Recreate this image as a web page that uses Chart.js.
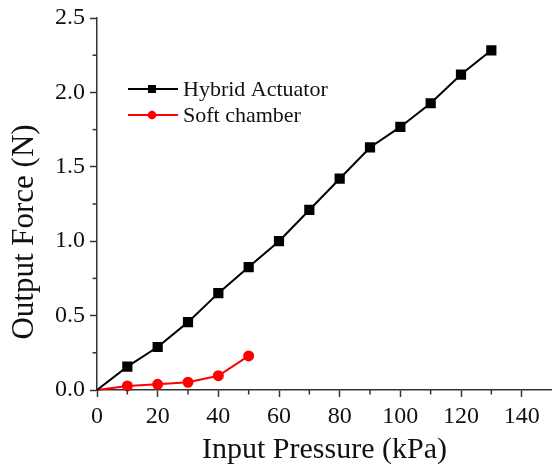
<!DOCTYPE html>
<html>
<head>
<meta charset="utf-8">
<script src="https://cdn.jsdelivr.net/npm/chart.js@4.4.1/dist/chart.umd.min.js"></script>
<style>
  html, body { margin: 0; padding: 0; background: #fff; }
  #wrap { width: 552px; height: 468px; }
</style>
</head>
<body>
<div id="wrap"><canvas id="c" width="552" height="468"></canvas></div>
<script>
const pressure = [0, 10, 20, 30, 40, 50, 60, 70, 80, 90, 100, 110, 120, 130];
const hybridForce = [0, 0.157, 0.289, 0.456, 0.651, 0.826, 1.00, 1.21, 1.42, 1.63, 1.768, 1.927, 2.12, 2.283];
const softPressure = [0, 10, 20, 30, 40, 50];
const softForce = [0, 0.027, 0.038, 0.052, 0.096, 0.229];
const seriesNames = ['Hybrid Actuator', 'Soft chamber'];
const xTitle = 'Input Pressure (kPa)';
const yTitle = 'Output Force (N)';

const FONT = "'Liberation Serif', 'Times New Roman', serif";
const AXIS_COLOR = '#333';

const extrasPlugin = {
  id: 'extras',
  afterDraw(chart) {
    const ctx = chart.ctx;
    const xs = chart.scales.x, ys = chart.scales.y;
    const area = chart.chartArea;
    ctx.save();
    // minor ticks
    ctx.strokeStyle = AXIS_COLOR;
    ctx.lineWidth = 1.5;
    for (let v = 10; v < 150; v += 20) {
      const px = xs.getPixelForValue(v);
      ctx.beginPath(); ctx.moveTo(px, area.bottom); ctx.lineTo(px, area.bottom + 4.5); ctx.stroke();
    }
    for (let v = 0.25; v < 2.5; v += 0.5) {
      const py = ys.getPixelForValue(v);
      ctx.beginPath(); ctx.moveTo(area.left, py); ctx.lineTo(area.left - 4.5, py); ctx.stroke();
    }
    // y title
    ctx.fillStyle = '#111';
    ctx.font = '31px ' + FONT;
    ctx.textAlign = 'center';
    ctx.textBaseline = 'middle';
    ctx.translate(25, 232);
    ctx.rotate(-Math.PI / 2);
    ctx.fillText(yTitle, 0, 0);
    ctx.restore();

    // legend
    ctx.save();
    const items = [
      { name: seriesNames[0], color: '#000', style: 'rect', y: 89 },
      { name: seriesNames[1], color: '#ff0000', style: 'circle', y: 115 }
    ];
    items.forEach(it => {
      ctx.strokeStyle = it.color;
      ctx.fillStyle = it.color;
      ctx.lineWidth = 2;
      ctx.beginPath(); ctx.moveTo(128, it.y); ctx.lineTo(178, it.y); ctx.stroke();
      if (it.style === 'rect') {
        ctx.fillRect(152 - 4, it.y - 4, 8, 8);
      } else {
        ctx.beginPath(); ctx.arc(152, it.y, 4.3, 0, Math.PI * 2); ctx.fill();
      }
      ctx.fillStyle = '#111';
      ctx.font = '22px ' + FONT;
      ctx.textAlign = 'left';
      ctx.textBaseline = 'middle';
      ctx.fillText(it.name, 183, it.y + 1);
    });
    ctx.restore();
  }
};

new Chart(document.getElementById('c'), {
  type: 'line',
  data: {
    datasets: [
      {
        label: seriesNames[0],
        data: pressure.map((p, i) => ({ x: p, y: hybridForce[i] })),
        borderColor: '#000',
        backgroundColor: '#000',
        borderWidth: 2,
        pointStyle: 'rect',
        pointRadius: pressure.map((p, i) => i === 0 ? 0 : 5.8),
        pointHoverRadius: 5.8,
        tension: 0
      },
      {
        label: seriesNames[1],
        data: softPressure.map((p, i) => ({ x: p, y: softForce[i] })),
        borderColor: '#ff0000',
        backgroundColor: '#ff0000',
        borderWidth: 2,
        pointStyle: 'circle',
        pointRadius: softPressure.map((p, i) => i === 0 ? 0 : 4.5),
        pointHoverRadius: 4.5,
        tension: 0
      }
    ]
  },
  options: {
    responsive: false,
    animation: false,
    devicePixelRatio: 1,
    clip: false,
    layout: { autoPadding: false, padding: { top: 18, right: 0, left: 0, bottom: 0 } },
    plugins: { legend: { display: false }, tooltip: { enabled: false } },
    scales: {
      x: {
        type: 'linear',
        min: 0, max: 150,
        afterFit(scale) { scale.height = 78; scale.paddingRight = 0; scale.paddingLeft = 0; },
        border: { display: true, color: AXIS_COLOR, width: 1.5 },
        grid: {
          drawOnChartArea: false, drawTicks: true, tickLength: 7, tickWidth: 1.5,
          tickColor: c => (c.tick && c.tick.value % 20 === 0 && c.tick.value <= 140) ? AXIS_COLOR : 'rgba(0,0,0,0)'
        },
        ticks: {
          stepSize: 10, autoSkip: false, maxRotation: 0, padding: 5,
          color: '#111', font: { family: FONT, size: 24 },
          callback: v => (v % 20 === 0 && v <= 140) ? String(v) : ''
        },
        title: { display: true, text: xTitle, color: '#111', font: { family: FONT, size: 30 }, padding: { top: 0, bottom: 0 } }
      },
      y: {
        type: 'linear',
        min: 0, max: 2.5,
        afterFit(scale) { scale.width = 97; scale.paddingTop = 0; scale.paddingBottom = 0; },
        border: { display: true, color: AXIS_COLOR, width: 1.5 },
        grid: {
          drawOnChartArea: false, drawTicks: true, tickLength: 7, tickWidth: 1.5,
          tickColor: c => (c.tick && Math.abs(c.tick.value * 2 - Math.round(c.tick.value * 2)) < 1e-6) ? AXIS_COLOR : 'rgba(0,0,0,0)'
        },
        ticks: {
          stepSize: 0.25, autoSkip: false, padding: 5,
          color: '#111', font: { family: FONT, size: 24 },
          callback: v => (Math.abs(v * 2 - Math.round(v * 2)) < 1e-6) ? Number(v).toFixed(1) : ''
        }
      }
    }
  },
  plugins: [extrasPlugin]
});
</script>
</body>
</html>
